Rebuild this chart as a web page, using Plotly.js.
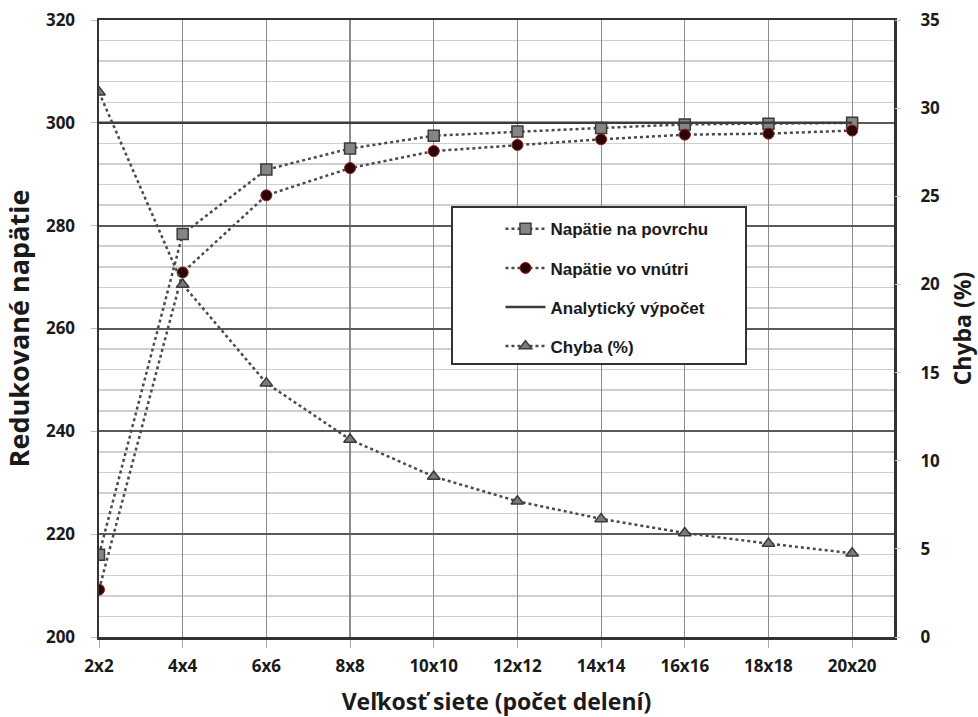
<!DOCTYPE html>
<html>
<head>
<meta charset="utf-8">
<script src="https://cdn.plot.ly/plotly-3.0.1.min.js"></script>
<style>html,body{margin:0;padding:0;background:#fff;}#chart{width:978px;height:717px;}</style>
</head>
<body>
<div id="chart"></div>
<script>
const categories = ["2x2","4x4","6x6","8x8","10x10","12x12","14x14","16x16","18x18","20x20"];
const surfaceStress = [216.0, 278.4, 290.9, 295.0, 297.5, 298.3, 299.0, 299.7, 299.8, 300.0];
const innerStress   = [209.2, 270.9, 285.9, 291.2, 294.5, 295.7, 296.8, 297.7, 297.9, 298.5];
const analytic      = [300, 300, 300, 300, 300, 300, 300, 300, 300, 300];
const errorPct      = [30.9, 20.0, 14.4, 11.2, 9.1, 7.7, 6.7, 5.9, 5.3, 4.75];
const names = ["Napätie na povrchu", "Napätie vo vnútri", "Analytický výpočet", "Chyba (%)"];
const leftTicks = [200, 220, 240, 260, 280, 300, 320];
const rightTicks = [0, 5, 10, 15, 20, 25, 30, 35];

const dotLine = {color: "#4a4a4a", width: 2.5, dash: "dot"};
const traces = [
  {x: categories, y: surfaceStress, name: names[0], type: "scatter", mode: "lines+markers",
   line: dotLine, marker: {symbol: "square", size: 11, color: "#858585", line: {color: "#3a3a3a", width: 1.5}},
   legendgroup: "a", yaxis: "y"},
  {x: categories, y: innerStress, name: names[1], type: "scatter", mode: "lines+markers",
   line: dotLine, marker: {symbol: "circle", size: 11, color: "#2a0606", line: {color: "#a01818", width: 1}},
   legendgroup: "b", yaxis: "y"},
  {x: categories, y: analytic, name: names[2], type: "scatter", mode: "lines",
   line: {color: "#3c3c3c", width: 2.5}, legendgroup: "c", yaxis: "y"},
  {x: categories, y: errorPct, name: names[3], type: "scatter", mode: "lines+markers",
   line: dotLine, marker: {symbol: "triangle-up", size: 11, color: "#7a7a7a", line: {color: "#3a3a3a", width: 1.5}},
   legendgroup: "d", yaxis: "y2"}
];

const tickFont = {family: "Open Sans", size: 17, color: "#1a1a1a", weight: "bold"};
const titleFont = {family: "Open Sans", size: 23, color: "#1a1a1a", weight: "bold"};

const layout = {
  width: 978, height: 717,
  margin: {l: 99, r: 84, t: 20, b: 80},
  paper_bgcolor: "#ffffff", plot_bgcolor: "#ffffff",
  showlegend: true,
  legend: {x: 0.505, y: 0.69, xanchor: "left", yanchor: "top",
           bgcolor: "rgba(0,0,0,0)", borderwidth: 0,
           font: {family: "Liberation Sans", size: 17, color: "#1a1a1a", weight: "bold"},
           traceorder: "grouped", tracegroupgap: 14, itemwidth: 40},
  xaxis: {type: "category", range: [0, 9.5], tickfont: tickFont,
          showgrid: true, gridcolor: "#8c8c8c", gridwidth: 1.2,
          ticks: "outside", ticklen: 8, tickcolor: "#aaaaaa", ticklabelstandoff: 4,
          showline: true, linecolor: "#333333", linewidth: 2.5, mirror: true,
          zeroline: false,
          title: {text: "Veľkosť siete (počet delení)", font: titleFont, standoff: 24}},
  yaxis: {range: [200, 320], tickvals: leftTicks, tickfont: tickFont,
          showgrid: true, gridcolor: "#5a5a5a", gridwidth: 2,
          minor: {dtick: 4, tick0: 200, showgrid: true, gridcolor: "#cfcfcf", gridwidth: 1.5},
          ticks: "outside", ticklen: 6, tickcolor: "#bbbbbb", ticklabelstandoff: 12,
          showline: true, linecolor: "#333333", linewidth: 2.5, mirror: true,
          zeroline: false,
          title: {text: "Redukované napätie", font: {family: "Open Sans", size: 27, color: "#1a1a1a", weight: "bold"}, standoff: 10}},
  yaxis2: {range: [0, 35], tickvals: rightTicks, overlaying: "y", side: "right",
           tickfont: tickFont, showgrid: false, zeroline: false,
           ticks: "outside", ticklen: 6, tickcolor: "#cccccc", ticklabelstandoff: 16,
           title: {text: "Chyba (%)", font: titleFont, standoff: 22}},
  shapes: [{type: "rect", xref: "paper", yref: "paper",
            x0: (452 - 99) / 795, x1: (746 - 99) / 795,
            y0: (637 - 364) / 617, y1: (637 - 207) / 617,
            fillcolor: "#ffffff", line: {color: "#333333", width: 2}, layer: "above"}]
};

Plotly.newPlot("chart", traces, layout, {displayModeBar: false, staticPlot: true});
</script>
</body>
</html>
